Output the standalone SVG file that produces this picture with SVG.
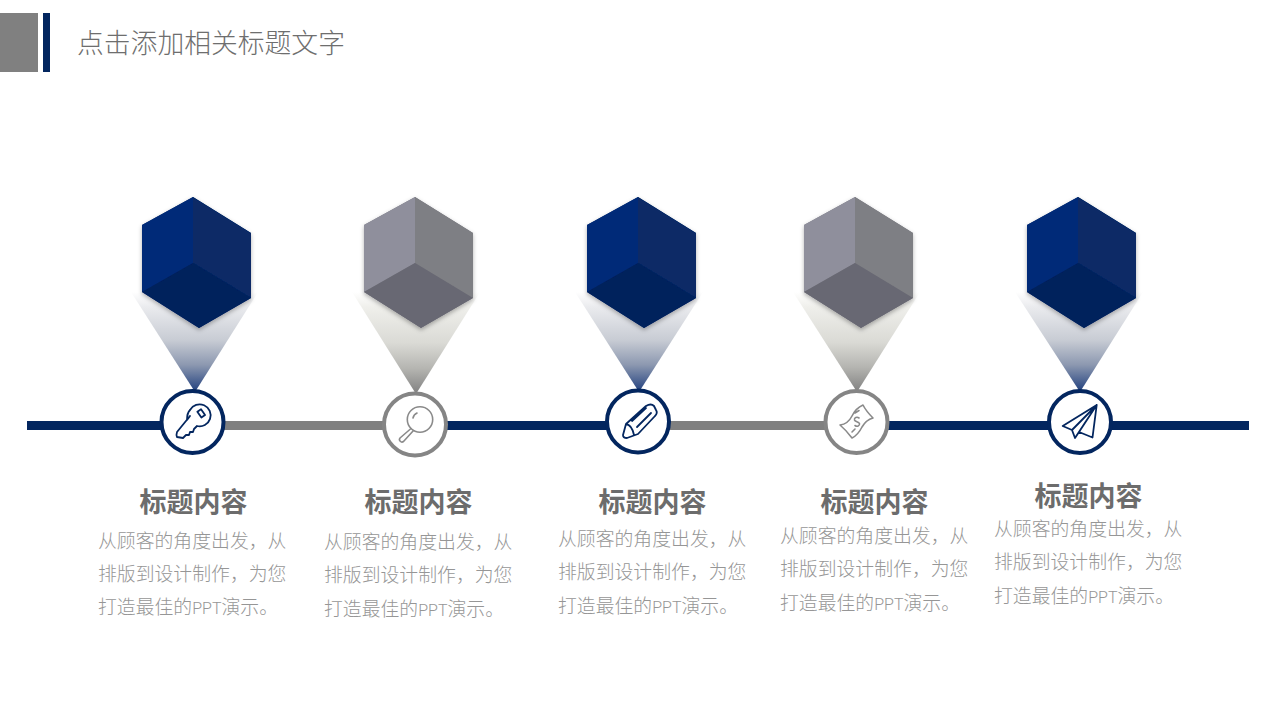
<svg xmlns="http://www.w3.org/2000/svg" xmlns:xlink="http://www.w3.org/1999/xlink" width="1280" height="720" viewBox="0 0 1280 720">
<style>
text{font-family:"Noto Sans CJK SC","Noto Sans",sans-serif}
.h{font-size:26.8px;fill:#6e6e6e;font-weight:300}
.t{font-size:27px;font-weight:700;fill:#6c6c6c;text-anchor:middle}
.b{font-size:18.85px;fill:#969696;font-weight:300}
.l{font-family:Roboto,"Liberation Sans",sans-serif;font-size:16px}
.n{fill:#fff;stroke:#03265f;stroke-width:4}
.g{fill:#fff;stroke:#858585;stroke-width:4}
.in{fill:none;stroke:#03265f;stroke-width:1.800;stroke-linejoin:round;stroke-linecap:round}
.ig{fill:none;stroke:#8a8a8a;stroke-width:1.600;stroke-linejoin:round;stroke-linecap:round}
</style>
<defs>
<linearGradient id="cn" x1="0" y1="0" x2="0" y2="1"><stop offset="0" stop-color="#fff"/><stop offset=".15" stop-color="#eaebee"/><stop offset=".48" stop-color="#c8ccd4"/><stop offset=".73" stop-color="#8c98b0"/><stop offset="1" stop-color="#1f3e7d"/></linearGradient>
<linearGradient id="cg" x1="0" y1="0" x2="0" y2="1"><stop offset="0" stop-color="#fff"/><stop offset=".15" stop-color="#efefeb"/><stop offset=".5" stop-color="#dadad5"/><stop offset=".75" stop-color="#b5b5b1"/><stop offset="1" stop-color="#808080"/></linearGradient>
<filter id="s" x="-20%" y="-20%" width="140%" height="140%"><feDropShadow dx="0" dy="2" stdDeviation="2" flood-color="#000" flood-opacity=".3"/></filter>
<g id="hexn" filter="url(#s)"><polygon points="0,0 -51,28 -51,95 6,131 58,101 58,36" fill="#072966"/><polygon points="0,0 -51,28 -51,95 0,66" fill="#052b78"/><polygon points="0,0 58,36 58,101 0,66" fill="#072966"/><polygon points="0,66 -51,95 6,131 58,101" fill="#03205c"/></g>
<g id="hexg" filter="url(#s)"><polygon points="0,0 -51,28 -51,95 6,131 58,101 58,36" fill="#77777f"/><polygon points="0,0 -51,28 -51,95 0,66" fill="#8f8f9c"/><polygon points="0,0 58,36 58,101 0,66" fill="#7e7f84"/><polygon points="0,66 -51,95 6,131 58,101" fill="#686873"/></g>
</defs>
<rect width="1280" height="720" fill="#fff"/>
<g id="header">
<rect x="0" y="13" width="38" height="59" fill="#808080"/>
<rect x="43" y="13" width="7" height="59" fill="#03265f"/>
<text class="h" x="77" y="53">点击添加相关标题文字</text>
</g>
<g id="connectors">
<rect x="27" y="421" width="140" height="9" fill="#03265f"/>
<rect x="222" y="421" width="166" height="9" fill="#808080"/>
<rect x="444" y="421" width="168" height="9" fill="#03265f"/>
<rect x="667" y="421" width="162" height="9" fill="#808080"/>
<rect x="886" y="421" width="166" height="9" fill="#03265f"/>
<rect x="1108" y="421" width="141" height="9" fill="#03265f"/>
</g>
<g id="node1">
<polygon points="131,292 258,292 195,392" fill="url(#cn)"/>
<use href="#hexn" x="193" y="197"/>
<circle class="n" cx="192.500" cy="422" r="31"/>
<path class="in" d="M190,416L177,432q-1,3 0,5l6,1l3,-3h3l1,-3h3l1,-3l3,-3a11,11 0 1 0 -7,-16q-3,3 -3,10z"/>
<rect class="in" x="-2" y="-3.500" width="4.500" height="7" transform="translate(201,413.500) rotate(-35)"/>
<text class="t" x="193.500" y="512">标题内容</text>
<text class="b" x="98" y="548">从顾客的角度出发，从</text>
<text class="b" x="98" y="581">排版到设计制作，为您</text>
<text class="b" x="98" y="614">打造最佳的<tspan class="l">PPT</tspan>演示。</text>
</g>
<g id="node2">
<polygon points="352,292 480,292 416,394" fill="url(#cg)"/>
<use href="#hexg" x="415" y="197"/>
<circle class="g" cx="415" cy="424.500" r="31"/>
<circle class="ig" cx="420" cy="419.500" r="12.700"/>
<path class="ig" d="M411,428.500l-11,9.500a2.500,2.500 0 0 0 3.500,3.500l10,-11M413,418a7,7 0 0 1 4,-5"/>
<text class="t" x="418.500" y="512">标题内容</text>
<text class="b" x="324" y="549">从顾客的角度出发，从</text>
<text class="b" x="324" y="582">排版到设计制作，为您</text>
<text class="b" x="324" y="616">打造最佳的<tspan class="l">PPT</tspan>演示。</text>
</g>
<g id="node3">
<polygon points="575,292 703,292 639,392" fill="url(#cn)"/>
<use href="#hexn" x="638" y="197"/>
<circle class="n" cx="638" cy="421.500" r="31"/>
<path class="in" d="M623,435L626,424L646,406Q651,403 654,406L656,410Q658,413 655,416L638,434L627,438Q623,438 623,435ZM626,424Q632,425 634,435M632,421L646,408M637,427L651,413"/>
<text class="t" x="652.500" y="512">标题内容</text>
<text class="b" x="558" y="546">从顾客的角度出发，从</text>
<text class="b" x="558" y="579">排版到设计制作，为您</text>
<text class="b" x="558" y="613">打造最佳的<tspan class="l">PPT</tspan>演示。</text>
</g>
<g id="node4">
<polygon points="793,292 920,292 857,392" fill="url(#cg)"/>
<use href="#hexg" x="855" y="197"/>
<circle class="g" cx="856.500" cy="422" r="31"/>
<path class="ig" d="M840,425Q848,424 852,416Q856,408 863,405Q866,411 873,418Q866,420 862,427Q858,435 852,438Q846,430 840,425ZM859,418c-2,-1.500 -5,-.5 -4.500,2c.5,2 4,1.500 5,3.500c.5,2.500 -2.500,3.500 -4.500,2M855,413l4,-2.500M852,432l3,-3"/>
<text class="t" x="874.500" y="512">标题内容</text>
<text class="b" x="780" y="543">从顾客的角度出发，从</text>
<text class="b" x="780" y="576">排版到设计制作，为您</text>
<text class="b" x="780" y="610">打造最佳的<tspan class="l">PPT</tspan>演示。</text>
</g>
<g id="node5">
<polygon points="1015,292 1143,292 1080,392" fill="url(#cn)"/>
<use href="#hexn" x="1078" y="197"/>
<circle class="n" cx="1080" cy="422" r="31"/>
<path class="in" d="M1096.700,405L1062.700,426L1072,430L1075,438L1079,432L1092.500,437.500ZM1096.700,405L1072,430M1096.700,405L1075,438M1096.700,405L1079,432"/>
<text class="t" x="1088.500" y="506">标题内容</text>
<text class="b" x="994" y="536">从顾客的角度出发，从</text>
<text class="b" x="994" y="569">排版到设计制作，为您</text>
<text class="b" x="994" y="603">打造最佳的<tspan class="l">PPT</tspan>演示。</text>
</g>
</svg>
